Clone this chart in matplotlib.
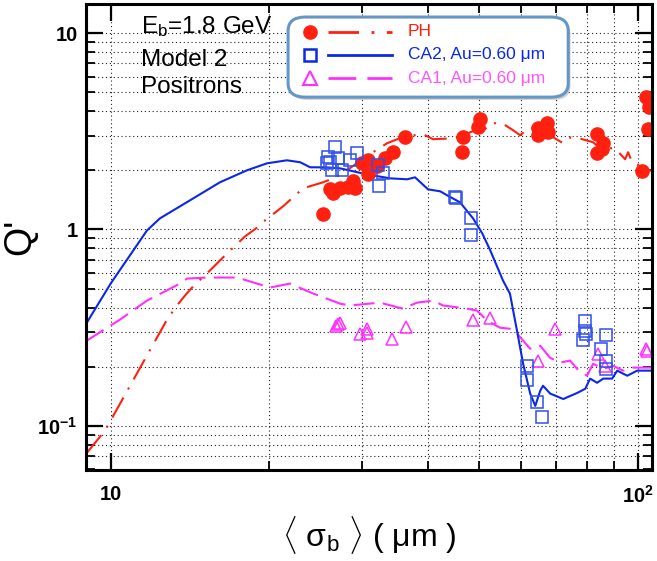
import matplotlib
matplotlib.use('Agg')
import matplotlib.pyplot as plt
from matplotlib.ticker import FixedLocator, FixedFormatter, NullFormatter, LogLocator
from matplotlib.patches import FancyBboxPatch

plt.rcParams['font.family'] = ['Liberation Sans', 'DejaVu Sans']
plt.rcParams['mathtext.fontset'] = 'custom'
plt.rcParams['mathtext.rm'] = 'Liberation Sans'
plt.rcParams['mathtext.it'] = 'Liberation Sans:italic'
plt.rcParams['mathtext.bf'] = 'Liberation Sans:bold'

RED = '#ff2010'
BLUE = '#0a28e6'
SQ = '#3050e8'
MAG = '#ff30ff'

# PH curve (red dash-dot)
ph_x = [9.01, 9.75, 12.79, 13.36, 13.84, 14.33, 15.43, 16.05, 16.70, 17.98, 18.87, 19.62,
        21.23, 22.18, 23.17, 25.28, 26.76, 28.08, 30.38, 33.45, 36.19, 39.14, 40.89, 45.01,
        49.2, 50.66, 52.5, 55.27, 58.0, 59.8, 62.47, 69.08, 72.17, 74.74, 78.42, 82.25,
        84.83, 90.58, 94.6, 95.86, 97.55, 106.5]
ph_y = [0.0728, 0.0943, 0.347, 0.41, 0.461, 0.512, 0.618, 0.687, 0.763, 0.921, 1.012, 1.111,
        1.31, 1.456, 1.619, 1.737, 1.842, 2.0, 2.33, 2.747, 2.982, 3.053, 2.88, 2.913,
        3.2, 3.12, 3.47, 3.474, 3.2, 3.017, 3.315, 2.948, 2.747, 2.948, 2.88, 2.779,
        2.59, 2.59, 2.276, 2.471, 2.197, 1.976]

# CA2 curve (blue solid)
ca2_x = [8.98, 10.0, 11.72, 12.4, 14.14, 16.12, 18.14, 19.8, 21.6, 22.9, 23.9, 25.7, 27.2,
         30.6, 33.9, 36.5, 37.8, 40.0, 42.2, 43.5, 46.0, 48.7, 50.7, 52.5, 55.5, 57.2, 59.0,
         60.6, 62.5, 63.9, 65.3, 66.1, 68.2, 72.2, 76.7, 79.5, 81.2, 83.7, 86.0, 89.4, 91.4,
         95.5, 99.7, 106.5]
ca2_y = [0.33, 0.53, 0.988, 1.138, 1.406, 1.738, 2.0, 2.171, 2.249, 2.197, 2.072, 2.07, 2.048,
         1.908, 1.82, 1.80, 1.842, 1.60, 1.563, 1.491, 1.374, 1.138, 0.954, 0.782, 0.549, 0.472,
         0.305, 0.207, 0.146, 0.1264, 0.151, 0.16, 0.146, 0.137, 0.147, 0.1545, 0.174, 0.1657,
         0.174, 0.174, 0.191, 0.18, 0.191, 0.191]

# CA1 curve (magenta dashed)
ca1_x = [8.98, 10.41, 11.72, 13.54, 13.96, 15.23, 17.37, 20.06, 21.89, 24.20, 27.24, 28.46,
         32.43, 35.85, 38.12, 40.89, 42.72, 47.45, 49.57, 51.78, 54.79, 57.24, 59.02, 62.47,
         65.26, 68.18, 71.23, 74.41, 76.71, 80.12, 82.25, 85.97, 89.79, 93.79, 97.97, 106.5]
ca1_y = [0.27, 0.347, 0.434, 0.530, 0.562, 0.569, 0.569, 0.506, 0.530, 0.472, 0.419, 0.410,
         0.424, 0.395, 0.424, 0.434, 0.410, 0.395, 0.386, 0.343, 0.316, 0.312, 0.295, 0.247,
         0.256, 0.222, 0.210, 0.215, 0.195, 0.180, 0.207, 0.195, 0.202, 0.191, 0.198, 0.198]

# measured points
ph_px = [25.28, 26.07, 26.41, 27.24, 28.20, 29.08, 28.83, 29.99, 30.78, 30.78, 32.02, 33.16,
         34.34, 36.19, 46.4, 46.6, 50.22, 49.77, 64.68, 67.28, 67.57, 64.68, 83.73, 85.97,
         83.73, 85.58, 101.9, 104.6, 105.1, 103.7]
ph_py = [1.193, 1.6, 1.526, 1.619, 1.638, 1.619, 1.758, 2.171, 2.249, 1.908, 2.096, 2.302,
         2.471, 2.948, 2.471, 2.948, 3.64, 3.315, 3.276, 3.474, 3.126, 3.017, 3.053, 2.747,
         2.442, 2.56, 1.976, 3.237, 4.19, 4.72]

ca2_px = [26.65, 25.84, 26.07, 25.73, 27.0, 26.3, 27.48, 28.46, 29.34, 32.16, 32.87, 32.29,
          45.01, 45.2, 48.28, 48.28, 61.66, 61.66, 64.41, 65.85, 79.45, 79.45, 79.8, 78.75,
          87.1, 85.2, 87.1, 87.1]
ca2_py = [2.62, 2.33, 2.197, 2.171, 2.302, 2.0, 2.0, 2.249, 2.442, 2.122, 1.93, 1.657,
          1.456, 1.439, 1.138, 0.932, 0.2024, 0.1717, 0.1326, 0.111, 0.3434, 0.3053, 0.2947,
          0.2747, 0.2912, 0.247, 0.2146, 0.1953]

ca1_px = [27.0, 27.24, 26.76, 29.72, 30.64, 30.64, 34.18, 36.34, 48.70, 52.45, 69.68, 64.68,
          84.1, 86.7, 103.7, 104.2]
ca1_py = [0.3315, 0.3353, 0.3236, 0.2947, 0.3125, 0.2982, 0.2778, 0.32, 0.3474, 0.3556,
          0.3125, 0.2146, 0.233, 0.2024, 0.247, 0.2413]

fig = plt.figure(figsize=(6.57, 5.61), dpi=100)
ax = fig.add_axes([0.1309, 0.1622, 0.8615, 0.8298])
ax.set_xscale('log')
ax.set_yscale('log')

ax.plot(ca1_x, ca1_y, color=MAG, lw=1.5, ls=(0, (10, 4)))
ax.plot(ph_x, ph_y, color=RED, lw=1.5, ls=(0, (11, 4.5, 1, 4.5)))
ax.plot(ca2_x, ca2_y, color=BLUE, lw=1.5)

ax.plot(ph_px, ph_py, 'o', ms=9.5, color=RED, mec=RED, ls='none')
ax.plot(ca1_px, ca1_py, '^', ms=9, mfc='none', mec=MAG, mew=1.1, ls='none')
ax.plot(ca2_px, ca2_py, 's', ms=8.5, mfc='none', mec=SQ, mew=1.1, ls='none')

ax.set_xlim(8.98, 106.4)
ax.set_ylim(0.0596, 13.97)

ax.xaxis.set_major_locator(FixedLocator([10, 100]))
ax.xaxis.set_major_formatter(FixedFormatter(['10', r'$\mathbf{10^{2}}$']))
ax.xaxis.set_minor_locator(LogLocator(subs=range(2, 10)))
ax.xaxis.set_minor_formatter(NullFormatter())
ax.yaxis.set_major_locator(FixedLocator([0.1, 1, 10]))
ax.yaxis.set_major_formatter(FixedFormatter([r'$\mathbf{10^{-1}}$', '1', '10']))
ax.yaxis.set_minor_locator(LogLocator(subs=range(2, 10)))
ax.yaxis.set_minor_formatter(NullFormatter())

ax.tick_params(which='both', direction='in', top=True, right=True, labelsize=14.5)
ax.tick_params(which='major', length=12, width=1.6)
ax.tick_params(which='minor', length=6.5, width=1.3)
ax.tick_params(axis='x', pad=11)
ax.tick_params(axis='y', pad=6)
plt.setp(ax.get_xticklabels() + ax.get_yticklabels(), fontweight='bold')
for s in ax.spines.values():
    s.set_linewidth(2.2)

ax.grid(which='both', color='#222222', lw=0.8, ls=(0, (1, 2.5)))

ax.set_xlabel(r'$\langle$ σ$_{\rm b}$ $\rangle$ ( μm )', fontsize=23)
ax.xaxis.set_label_coords(0.5, -0.095)
ax.set_ylabel("Q'", fontsize=27)
ax.yaxis.set_label_coords(-0.085, 0.5)

ax.text(0.097, 0.952, r'E$_{\rm b}$=1.8 GeV', transform=ax.transAxes, fontsize=17.5, va='center')
ax.text(0.097, 0.881, 'Model 2', transform=ax.transAxes, fontsize=17.5, va='center')
ax.text(0.097, 0.823, 'Positrons', transform=ax.transAxes, fontsize=17.5, va='center')

# legend box
shadow = FancyBboxPatch((0.361, 0.795), 0.495, 0.172, boxstyle='round,pad=0,rounding_size=0.03',
                        transform=ax.transAxes, fc='#b0b0b0', ec='none', alpha=0.6, zorder=9)
box = FancyBboxPatch((0.357, 0.801), 0.495, 0.172, boxstyle='round,pad=0,rounding_size=0.03',
                     transform=ax.transAxes, fc='white', ec='#6496c8', lw=2.2, zorder=10)
ax.add_patch(shadow)
ax.add_patch(box)

leg_labels = ['PH', 'CA2, Au=0.60 μm', 'CA1, Au=0.60 μm']
leg_colors = [RED, BLUE, '#ff55ff']
leg_marks = [dict(marker='o', mfc=RED, mec=RED, ms=9.5),
             dict(marker='s', mfc='none', mec=BLUE, ms=9, mew=1.8),
             dict(marker='^', mfc='none', mec=MAG, ms=10, mew=1.5)]
leg_ls = [(0, (11, 4.5, 1, 4.5)), '-', (0, (10, 4))]
line_colors = [RED, BLUE, MAG]
rows = [0.941, 0.892, 0.842]
for lab, tc, mk, ls, lc, yy in zip(leg_labels, leg_colors, leg_marks, leg_ls, line_colors, rows):
    ax.plot([0.396], [yy], transform=ax.transAxes, ls='none', zorder=11, clip_on=False, **mk)
    ax.plot([0.4276, 0.5406], [yy, yy], transform=ax.transAxes, color=lc, lw=2, ls=ls,
            zorder=11, clip_on=False)
    ax.text(0.569, yy, lab, transform=ax.transAxes, color=tc, fontsize=12.5, va='center', zorder=12)

fig.savefig('out.png', dpi=100)
